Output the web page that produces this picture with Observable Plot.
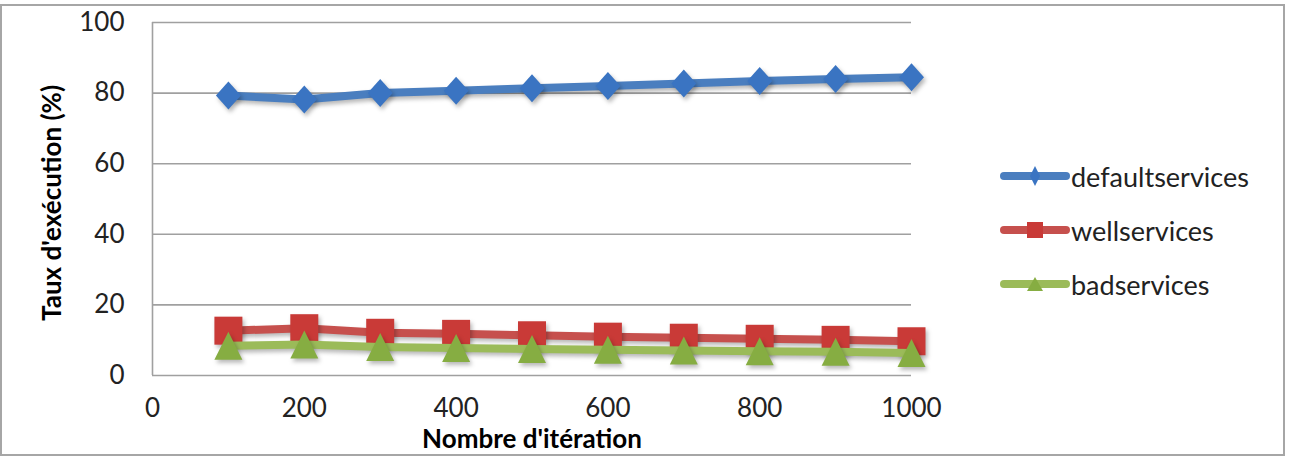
<!DOCTYPE html>
<html>
<head>
<meta charset="utf-8">
<script src="https://cdn.jsdelivr.net/npm/d3@7"></script>
<script src="https://cdn.jsdelivr.net/npm/@observablehq/plot@0.6"></script>
<style>
  body { margin: 0; background: #fff; }
  #wrap { position: relative; width: 1291px; height: 458px; font-family: Lato, "Open Sans", sans-serif; overflow: hidden; }
  #border { position: absolute; left: 0px; top: 4px; width: 1285px; height: 452px; border: 2px solid #a6a6a6; box-sizing: border-box; }
  #chart { position: absolute; left: 0; top: 0; }
  #legend { position: absolute; left: 998px; top: 0; }
  .item { position: absolute; left: 0; height: 30px; display: flex; align-items: center; white-space: nowrap; font-size: 27px; color: #222; }
  .item svg { display: block; margin-right: 1px; }
</style>
</head>
<body>
<div id="wrap">
  <div id="border"></div>
  <div id="chart"></div>
  <div id="legend"></div>
</div>
<script>
// ---- data ----
const iterations = [100, 200, 300, 400, 500, 600, 700, 800, 900, 1000];
const defaultservices = [79.3, 78.2, 80, 80.7, 81.4, 82, 82.7, 83.4, 84, 84.5];
const wellservices = [12.7, 13.4, 12.1, 11.8, 11.4, 11, 10.7, 10.4, 10.1, 9.7];
const badservices = [8.4, 8.8, 8.1, 7.8, 7.5, 7.3, 7.1, 6.9, 6.7, 6.4];
const seriesNames = ["defaultservices", "wellservices", "badservices"];
const xTicks = [0, 200, 400, 600, 800, 1000];
const yTicks = [0, 20, 40, 60, 80, 100];
const xTitle = "Nombre d'itération";
const yTitle = "Taux d'exécution (%)";

// ---- styles ----
const lineColors = ["#4a7ebf", "#c6504d", "#9bbb59"];
const markerColors = ["#3a74c2", "#c93a37", "#86ad42"];

// custom symbols (size = pi r^2)
const diamond = { draw(ctx, size) { const r = Math.sqrt(size / Math.PI); ctx.moveTo(0, -r * 1.12); ctx.lineTo(r, 0); ctx.lineTo(0, r * 1.12); ctx.lineTo(-r, 0); ctx.closePath(); } };
const square = { draw(ctx, size) { const r = Math.sqrt(size / Math.PI); ctx.rect(-r, -r, 2 * r, 2 * r); } };
const triangle = { draw(ctx, size) { const r = Math.sqrt(size / Math.PI); ctx.moveTo(0, -r); ctx.lineTo(r, r); ctx.lineTo(-r, r); ctx.closePath(); } };
const symbols = [diamond, square, triangle];
const sizes = [12.5, 14, 14];

const seriesValues = [defaultservices, wellservices, badservices];
const rows = [];
seriesNames.forEach((s, i) => iterations.forEach((x, j) => rows.push({ series: s, x, y: seriesValues[i][j] })));

const seriesMarks = [];
seriesNames.forEach((s, i) => {
  const d = rows.filter(r => r.series === s);
  seriesMarks.push(Plot.line(d, { x: "x", y: "y", stroke: lineColors[i], strokeWidth: 8, strokeLinejoin: "round", strokeLinecap: "round" }));
  seriesMarks.push(Plot.dot(d, { x: "x", y: "y", symbol: symbols[i], r: sizes[i], fill: markerColors[i], stroke: "none" }));
});

const chart = Plot.plot({
  width: 1291,
  height: 458,
  marginLeft: 152,
  marginRight: 380,
  marginTop: 22,
  marginBottom: 83,
  x: { domain: [0, 1000] },
  y: { domain: [0, 100] },
  style: { fontFamily: "Lato, 'Open Sans', sans-serif", fontSize: "26px", color: "#222", background: "transparent" },
  marks: [
    Plot.gridY(yTicks, { stroke: "#a0a0a0", strokeOpacity: 1, strokeWidth: 1.6 }),
    Plot.ruleX([0], { stroke: "#a0a0a0", strokeWidth: 1.6 }),
    Plot.axisY(yTicks, { tickSize: 0, tickPadding: 28, label: null, fill: "#222", tickFormat: d3.format("d") }),
    Plot.axisX(xTicks, { tickSize: 0, tickPadding: 23, label: null, fill: "#222", tickFormat: d3.format("d") }),
    Plot.text([xTitle], { frameAnchor: "bottom", dy: 64, fontWeight: "bold", fill: "#000", fontSize: 26, textAnchor: "middle", lineAnchor: "middle" }),
    Plot.text([yTitle], { frameAnchor: "left", dx: -100, dy: 4, rotate: -90, fontWeight: "bold", fill: "#000", fontSize: 26, textAnchor: "middle", lineAnchor: "middle" }),
    ...seriesMarks
  ]
});
document.getElementById("chart").appendChild(chart);
d3.select(chart).selectAll('g[aria-label="line"], g[aria-label="dot"]')
  .style("filter", "drop-shadow(2px 3px 2px rgba(0,0,0,0.28))");

// ---- legend ----
const legend = d3.select("#legend");
const legendY = [176, 230, 284];
seriesNames.forEach((s, i) => {
  const item = legend.append("div").attr("class", "item").style("top", (legendY[i] - 15) + "px");
  const svg = item.append("svg").attr("width", 72).attr("height", 30);
  svg.append("line").attr("x1", 6).attr("x2", 68).attr("y1", 15).attr("y2", 15)
    .attr("stroke", lineColors[i]).attr("stroke-width", 8).attr("stroke-linecap", "round");
  let p;
  if (i === 0) p = "M37,5L42,15L37,25L32,15Z";
  else if (i === 1) p = "M29,7h16v16h-16Z";
  else p = "M37,8L45,22L29,22Z";
  svg.append("path").attr("d", p).attr("fill", markerColors[i]);
  item.append("span").text(s);
});
</script>
</body>
</html>
